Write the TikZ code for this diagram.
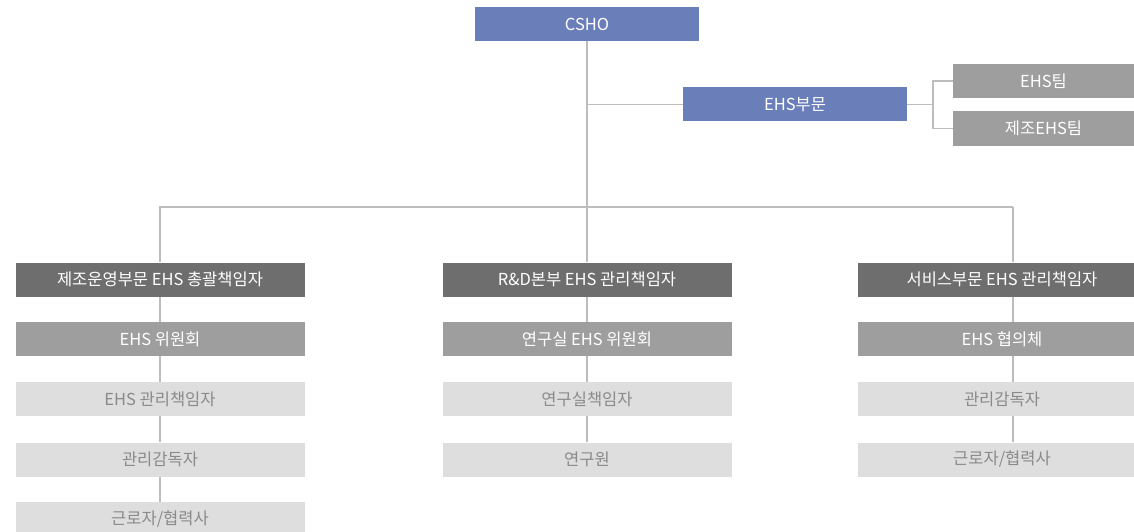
\documentclass[tikz,border=0pt]{standalone}
\usepackage{fontspec}
\newfontfamily\krfont{Noto Sans CJK KR}
\usetikzlibrary{positioning}
\definecolor{headblue}{HTML}{6A7FBA}
\definecolor{darkbox}{HTML}{6E6E6E}
\definecolor{midbox}{HTML}{9E9E9E}
\definecolor{lightbox}{HTML}{DEDEDE}
\definecolor{lighttext}{HTML}{8A8A8A}
\definecolor{linkgray}{HTML}{BDBDBD}

\begin{document}
\begin{tikzpicture}[x=1pt, y=-1pt,
  box/.style={minimum height=34pt, inner sep=0pt, text=white,
    font=\krfont\fontsize{16.5}{19}\selectfont},
  bluebox/.style={box, fill=headblue, minimum width=224pt},
  teambox/.style={box, fill=midbox, minimum width=181pt},
  headbox/.style={box, fill=darkbox, minimum width=289pt},
  midrow/.style={box, fill=midbox, minimum width=289pt},
  lightrow/.style={box, fill=lightbox, minimum width=289pt, text=lighttext},
  link/.style={draw=linkgray, line width=1.3pt}]

\clip (0,0) rectangle (1134,532);

% top of the chart
\node[bluebox] (csho) at (587,24) {CSHO};
\node[bluebox] (ehsdiv) at (795,104.5) {EHS부문};
\node[teambox] (ehsteam) at (1043.5,81) {EHS팀};
\node[teambox] (mfgteam) at (1043.5,128.5) {제조EHS팀};

% three columns
\node[headbox] (mfghead) at (160,279.5) {제조운영부문 EHS 총괄책임자};
\node[midrow] (mfgcom) at (160,339) {EHS 위원회};
\node[lightrow] (mfgmgr) at (160,399) {EHS 관리책임자};
\node[lightrow] (mfgsup) at (160,459.5) {관리감독자};
\node[lightrow] (mfgwork) at (160,519) {근로자/협력사};

\node[headbox] (rndhead) at (587,279.5) {R\&D본부 EHS 관리책임자};
\node[midrow] (rndcom) at (587,339) {연구실 EHS 위원회};
\node[lightrow] (rndmgr) at (587,399) {연구실책임자};
\node[lightrow] (rndres) at (587,459.5) {연구원};

\node[headbox] (svchead) at (1002,279.5) {서비스부문 EHS 관리책임자};
\node[midrow] (svccom) at (1002,339) {EHS 협의체};
\node[lightrow] (svcsup) at (1002,399) {관리감독자};
\node[lightrow] (svcwork) at (1002,459.5) {근로자/협력사};

% connectors
\coordinate (bus) at (587,207);
\coordinate (fork) at (933,104.5);
\coordinate (svcdrop) at (1013,207);

\draw[link] (csho) -- (bus);
\draw[link] (csho |- ehsdiv) -- (ehsdiv);
\draw[link] (ehsdiv) -- (fork);
\draw[link] (ehsteam.west) -| (fork) |- (mfgteam.west);

\draw[link] (mfghead.north) |- (svcdrop);
\draw[link] (svcdrop) -- (svcdrop |- svchead.north);
\draw[link] (bus) -- (rndhead);

\foreach \a/\b in {mfghead/mfgcom,mfgcom/mfgmgr,mfgmgr/mfgsup,mfgsup/mfgwork,
                   rndhead/rndcom,rndcom/rndmgr,rndmgr/rndres}
\draw[link] (\a) -- (\b);

\foreach \a/\b in {svchead/svccom,svccom/svcsup,svcsup/svcwork}
\draw[link] (\a.south -| svcdrop) -- (\b.north -| svcdrop);

\end{tikzpicture}
\end{document}
